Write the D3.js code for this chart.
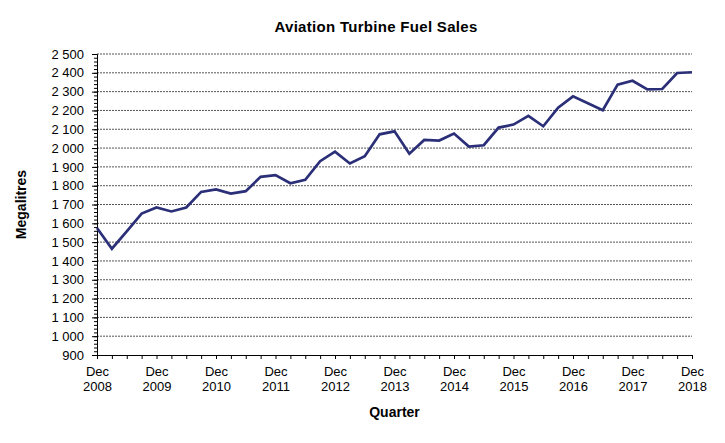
<!DOCTYPE html>
<html>
<head>
<meta charset="utf-8">
<script src="https://cdn.jsdelivr.net/npm/d3@7"></script>
<style>
  body { margin: 0; background: #fff; }
  svg { display: block; font-family: "Liberation Sans", Arial, sans-serif; }
</style>
</head>
<body>
<div id="chart"></div>
<script>
const QUARTERS = [
  "Dec 2008", "Mar 2009", "Jun 2009", "Sep 2009", "Dec 2009", "Mar 2010", "Jun 2010", "Sep 2010",
  "Dec 2010", "Mar 2011", "Jun 2011", "Sep 2011", "Dec 2011", "Mar 2012", "Jun 2012", "Sep 2012",
  "Dec 2012", "Mar 2013", "Jun 2013", "Sep 2013", "Dec 2013", "Mar 2014", "Jun 2014", "Sep 2014",
  "Dec 2014", "Mar 2015", "Jun 2015", "Sep 2015", "Dec 2015", "Mar 2016", "Jun 2016", "Sep 2016",
  "Dec 2016", "Mar 2017", "Jun 2017", "Sep 2017", "Dec 2017", "Mar 2018", "Jun 2018", "Sep 2018",
  "Dec 2018",
];
const SALES = [
  1575, 1465, 1557, 1652, 1684, 1663, 1684, 1767,
  1780, 1758, 1771, 1847, 1856, 1813, 1831, 1930,
  1981, 1918, 1957, 2073, 2089, 1970, 2043, 2040,
  2077, 2008, 2015, 2109, 2125, 2171, 2116, 2215,
  2275, 2238, 2201, 2337, 2358, 2312, 2314, 2399,
  2403,
];
const Y_TICKS = [900, 1000, 1100, 1200, 1300, 1400, 1500, 1600, 1700, 1800, 1900, 2000, 2100, 2200, 2300, 2400, 2500];
const Y_MINOR = d3.range(900, 2501, 20);

const FONT = "Liberation Sans, Arial, sans-serif";
const width = 725;
const height = 443;
const margin = { top: 54, right: 33, bottom: 88, left: 97 };
const innerWidth = width - margin.left - margin.right;
const innerHeight = height - margin.top - margin.bottom;

const spaceFormat = d3.formatLocale({
  decimal: ".",
  thousands: " ",
  grouping: [3],
  currency: ["", ""],
}).format(",");

const svg = d3
  .select("#chart")
  .append("svg")
  .attr("width", width)
  .attr("height", height)
  .attr("viewBox", `0 0 ${width} ${height}`);

const g = svg.append("g").attr("transform", `translate(${margin.left},${margin.top})`);

const x = d3.scalePoint().domain(QUARTERS).range([0, innerWidth]);
const y = d3.scaleLinear().domain([900, 2500]).range([innerHeight, 0]);

// dotted gridlines
g.append("g")
  .selectAll("line")
  .data(Y_TICKS.filter((d) => d > 900))
  .join("line")
  .attr("x1", 0)
  .attr("x2", innerWidth)
  .attr("y1", (d) => y(d))
  .attr("y2", (d) => y(d))
  .attr("stroke", "#555")
  .attr("stroke-width", 1)
  .attr("stroke-dasharray", "2,1");

// minor ticks on y (no labels)
g.append("g")
  .call(d3.axisLeft(y).tickValues(Y_MINOR).tickSize(3).tickFormat(""))
  .call((a) => a.select(".domain").remove())
  .call((a) => a.selectAll("text").remove())
  .selectAll("line")
  .attr("stroke", "#000");

g.append("g")
  .attr("font-family", FONT)
  .attr("font-size", 13)
  .call(d3.axisLeft(y).tickValues(Y_TICKS).tickSize(5).tickPadding(8).tickFormat(spaceFormat))
  .call((a) => a.attr("font-family", FONT).attr("font-size", 13))
  .call((a) => a.select(".domain").attr("stroke", "#000"))
  .call((a) => a.selectAll("text").attr("fill", "#000"));

const xAxis = g
  .append("g")
  .attr("transform", `translate(0,${innerHeight})`)
  .call(d3.axisBottom(x).tickSize(4).tickSizeOuter(0).tickFormat(""))
  .call((a) => a.attr("font-family", FONT).attr("font-size", 13));

xAxis.select(".domain").attr("stroke", "#000");
xAxis.selectAll(".tick text").remove();

xAxis
  .selectAll(".tick")
  .filter((d) => d.startsWith("Dec"))
  .append("text")
  .attr("fill", "#000")
  .attr("text-anchor", "middle")
  .selectAll("tspan")
  .data((d) => d.split(" "))
  .join("tspan")
  .attr("x", 0)
  .attr("y", (d, i) => 21 + i * 14.5)
  .text((d) => d);

const line = d3
  .line()
  .x((d, i) => x(QUARTERS[i]))
  .y((d) => y(d));

g.append("path")
  .datum(SALES)
  .attr("fill", "none")
  .attr("stroke", "#2b2f78")
  .attr("stroke-width", 2.7)
  .attr("stroke-linejoin", "miter")
  .attr("d", line);

svg.append("text")
  .attr("x", 376)
  .attr("y", 32)
  .attr("text-anchor", "middle")
  .attr("font-family", FONT)
  .attr("font-size", 15)
  .attr("font-weight", "bold")
  .attr("letter-spacing", 0.3)
  .text("Aviation Turbine Fuel Sales");

svg.append("text")
  .attr("x", margin.left + innerWidth / 2)
  .attr("y", 417)
  .attr("text-anchor", "middle")
  .attr("font-family", FONT)
  .attr("font-size", 14)
  .attr("font-weight", "bold")
  .text("Quarter");

svg.append("text")
  .attr("transform", `translate(26,${margin.top + innerHeight / 2}) rotate(-90)`)
  .attr("text-anchor", "middle")
  .attr("font-family", FONT)
  .attr("font-size", 14)
  .attr("font-weight", "bold")
  .text("Megalitres");
</script>
</body>
</html>
